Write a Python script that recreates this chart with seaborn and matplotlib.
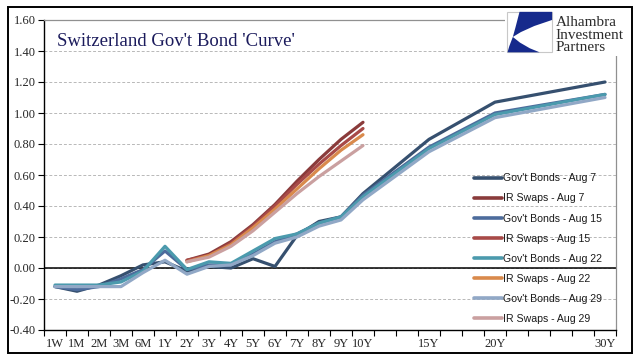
import numpy as np
import pandas as pd
import seaborn as sns
import matplotlib.pyplot as plt
from matplotlib.patches import Rectangle, Polygon
from matplotlib.ticker import FixedLocator, FormatStrFormatter
from matplotlib.font_manager import FontProperties

# axis categories (blank slots keep the long end spaced out like the original)
categories = ['1W', '1M', '2M', '3M', '6M', '1Y', '2Y', '3Y', '4Y', '5Y', '6Y', '7Y',
              '8Y', '9Y', '10Y', '', '', '15Y', '', '', '20Y', '', '', '', '', '30Y']
tenors = ['1W', '1M', '2M', '3M', '6M', '1Y', '2Y', '3Y', '4Y', '5Y', '6Y', '7Y',
          '8Y', '9Y', '10Y', '15Y', '20Y', '30Y']
swap_tenors = ['2Y', '3Y', '4Y', '5Y', '6Y', '7Y', '8Y', '9Y', '10Y']

gov_aug7 = [-0.12, -0.15, -0.11, -0.05, 0.02, 0.04, -0.02, 0.01, 0.00, 0.06, 0.01, 0.21,
            0.30, 0.33, 0.48, 0.83, 1.07, 1.20]
gov_aug15 = [-0.12, -0.14, -0.12, -0.07, -0.01, 0.11, -0.01, 0.02, 0.02, 0.09, 0.17, 0.22,
             0.29, 0.33, 0.47, 0.78, 1.00, 1.12]
gov_aug22 = [-0.11, -0.11, -0.11, -0.09, -0.02, 0.14, -0.01, 0.04, 0.03, 0.11, 0.19, 0.22,
             0.29, 0.33, 0.46, 0.77, 0.99, 1.12]
gov_aug29 = [-0.12, -0.12, -0.12, -0.12, -0.03, 0.05, -0.04, 0.01, 0.02, 0.08, 0.16, 0.20,
             0.27, 0.31, 0.44, 0.75, 0.97, 1.10]

irs_aug7 = [0.05, 0.09, 0.17, 0.28, 0.41, 0.56, 0.70, 0.83, 0.94]
irs_aug15 = [0.05, 0.08, 0.16, 0.27, 0.40, 0.54, 0.67, 0.79, 0.90]
irs_aug22 = [0.04, 0.08, 0.15, 0.26, 0.38, 0.51, 0.64, 0.76, 0.86]
irs_aug29 = [0.04, 0.07, 0.14, 0.24, 0.36, 0.48, 0.59, 0.69, 0.79]

series_names = ["Gov't Bonds - Aug 7", "IR Swaps - Aug 7",
                "Gov't Bonds - Aug 15", "IR Swaps - Aug 15",
                "Gov't Bonds - Aug 22", "IR Swaps - Aug 22",
                "Gov't Bonds - Aug 29", "IR Swaps - Aug 29"]
colors = ['#36506f', '#8a3b3b', '#4d6c9c', '#a84a48',
          '#4b9aad', '#d98a4c', '#91a8c6', '#caa0a0']

rows = []
for name, vals in zip(series_names,
                      [gov_aug7, irs_aug7, gov_aug15, irs_aug15,
                       gov_aug22, irs_aug22, gov_aug29, irs_aug29]):
    labels = tenors if name.startswith('Gov') else swap_tenors
    for t, v in zip(labels, vals):
        rows.append({'series': name, 'pos': categories.index(t), 'value': v})
df = pd.DataFrame(rows)

sns.set_style('white')
plt.rcParams['font.family'] = ['Liberation Serif', 'DejaVu Serif']

fig = plt.figure(figsize=(6.41, 3.61), dpi=100)
ax = fig.add_axes([44 / 641, 31 / 361, 572 / 641, 310 / 361])

sns.lineplot(data=df, x='pos', y='value', hue='series', hue_order=series_names,
             palette=colors, linewidth=2.3, sort=False, ax=ax)

ax.set_xlim(-0.5, len(categories) - 0.5)
ax.set_ylim(-0.4, 1.6)
ax.set_xlabel('')
ax.set_ylabel('')

# category labels centred, tick marks between categories
ax.xaxis.set_major_locator(FixedLocator(np.arange(len(categories))))
ax.set_xticklabels(categories)
ax.xaxis.set_minor_locator(FixedLocator(np.arange(len(categories) + 1) - 0.5))
ax.tick_params(axis='x', which='major', length=0, pad=6, labelsize=9)
ax.tick_params(axis='x', which='minor', length=4, width=0.8, direction='out', color='black', bottom=True)

ax.set_yticks(np.arange(-0.4, 1.61, 0.2))
ax.yaxis.set_major_formatter(FormatStrFormatter('%.2f'))
ax.tick_params(axis='y', length=4, width=0.8, direction='out', color='black', left=True, labelsize=9, pad=2)

ax.yaxis.grid(True, linestyle=(0, (3, 2)), color='#b8b8b8', linewidth=0.7)
ax.set_axisbelow(True)
ax.axhline(0, color='black', linewidth=1.1, zorder=1)

for side in ['left', 'bottom']:
    ax.spines[side].set_color('black')
    ax.spines[side].set_linewidth(1.0)
for side in ['top', 'right']:
    ax.spines[side].set_color('#909090')
    ax.spines[side].set_linewidth(0.9)

legend_font = FontProperties(family=['Liberation Sans', 'DejaVu Sans'], size=7.6)
leg = ax.legend(loc='upper left', bbox_to_anchor=(0.752, 0.505), frameon=False,
                borderaxespad=0, borderpad=0, handlelength=2.6, handletextpad=0.15,
                labelspacing=0.95, prop=legend_font, labelcolor='#1a1a1a')
for line in leg.get_lines():
    line.set_linewidth(2.6)

fig.text(57 / 641, 1 - 46 / 361, "Switzerland Gov't Bond 'Curve'", fontsize=13.5,
         color='#1b1b5c', va='baseline', ha='left')

# logo block
lax = fig.add_axes([505 / 641, 1 - 56 / 361, 124 / 641, 46 / 361])
lax.set_xlim(0, 1)
lax.set_ylim(0, 1)
lax.axis('off')
lax.add_patch(Rectangle((0, 0), 1, 1, facecolor='white', edgecolor='none'))
bx0, by0, bw, bh = 0.02, 0.08, 0.36, 0.88
lax.add_patch(Rectangle((bx0, by0), bw, bh, facecolor='white', edgecolor='#c8c8c8', lw=0.8))
top_shape = [(0.27, 1.0), (1.0, 1.0), (1.0, 0.8), (0.6, 0.65), (0.3, 0.5), (0.12, 0.38), (0.18, 0.62)]
bot_shape = [(0.0, 0.0), (0.72, 0.0), (0.5, 0.1), (0.28, 0.24), (0.12, 0.38), (0.04, 0.15)]
for shape in [top_shape, bot_shape]:
    pts = [(bx0 + px * bw, by0 + py * bh) for px, py in shape]
    lax.add_patch(Polygon(pts, closed=True, facecolor='#162a8c', edgecolor='none'))
for i, word in enumerate(['Alhambra', 'Investment', 'Partners']):
    lax.text(0.41, 0.72 - i * 0.27, word, fontsize=11, color='#2b2b2b', va='center', ha='left')

# outer frame
fig.patches.append(Rectangle((8 / 641, 8 / 361), 624 / 641, 346 / 361, transform=fig.transFigure,
                             fill=False, edgecolor='black', linewidth=1.4))

fig.savefig('out.png', dpi=100)
